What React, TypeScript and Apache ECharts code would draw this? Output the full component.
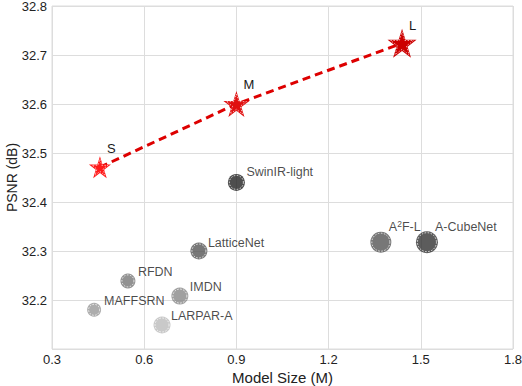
import React, { useEffect, useRef } from "react";
import * as echarts from "echarts";

const ourNames = ["S", "M", "L"];
const ourSizes = [0.456, 0.9, 1.439];
const ourPsnr = [32.471, 32.6, 32.724];
const ourColors = ["#ff1a1a", "#e01010", "#cc0000"];
const ourSymbolSizes = [22, 26, 29];

const otherNames = ["SwinIR-light", "LatticeNet", "RFDN", "IMDN", "MAFFSRN", "LARPAR-A", "A{sup|2}F-L", "A-CubeNet"];
const otherSizes = [0.9, 0.778, 0.547, 0.716, 0.437, 0.658, 1.37, 1.52];
const otherPsnr = [32.44, 32.3, 32.239, 32.208, 32.18, 32.149, 32.318, 32.318];
const otherColors = ["#222222", "#555555", "#777777", "#888888", "#999999", "#bbbbbb", "#555555", "#333333"];
const otherSymbolSizes = [17, 17, 15, 17, 14, 17, 21, 22];

const xTicks = [0.3, 0.6, 0.9, 1.2, 1.5, 1.8];

const STAR = "path://M50,0 L61.2,34.5 L97.6,34.5 L68.2,55.9 L79.4,90.5 L50,69.1 L20.6,90.5 L31.8,55.9 L2.4,34.5 L38.8,34.5 Z";

export default function App() {
  const ref = useRef<HTMLDivElement>(null);
  useEffect(() => {
    const chart = echarts.init(ref.current!, null, { renderer: "svg" });
    const font = "Liberation Sans";
    const labelOffsets: Record<string, number[]> = {
      "SwinIR-light": [10, -10],
      LatticeNet: [9, -8],
      RFDN: [10, -9],
      IMDN: [10, -9],
      MAFFSRN: [10, -9],
      "LARPAR-A": [9, -9],
      "A{sup|2}F-L": [8, -15],
      "A-CubeNet": [8, -15],
      S: [7, -19],
      M: [7, -20],
      L: [7, -18],
    };
    const lab = (n: string, size: number, fs: number) => ({
      show: true,
      position: [size / 2 + labelOffsets[n][0], size / 2 + labelOffsets[n][1]],
      align: "left",
      verticalAlign: "middle",
      formatter: n,
      fontFamily: font,
      fontSize: fs,
      color: "#1a1a1a",
      rich: { sup: { fontFamily: font, fontSize: 8.5, color: "#1a1a1a", verticalAlign: "top", padding: [0, 0, 6, 0] } },
    });
    chart.setOption({
      animation: false,
      grid: {
        left: 52,
        right: 9,
        top: 6,
        bottom: 37,
        show: true,
        borderColor: "#dddddd",
        borderWidth: 1,
        containLabel: false,
        outerBoundsMode: "none",
      },
      xAxis: {
        type: "value",
        min: 0.3,
        max: 1.8,
        interval: 0.3,
        name: "Model Size (M)",
        nameLocation: "middle",
        nameGap: 21,
        nameMoveOverlap: false,
        nameTextStyle: { fontFamily: font, fontSize: 15, color: "#222" },
        axisLine: { show: false },
        axisTick: { show: false },
        splitLine: { lineStyle: { color: "#dddddd", width: 1 } },
        axisLabel: {
          fontFamily: font,
          fontSize: 13,
          color: "#222",
          margin: 4,
          formatter: (v: number) => {
            const t = xTicks.find((x) => Math.abs(x - v) < 1e-6);
            return t !== undefined ? t.toFixed(1) : "";
          },
        },
      },
      yAxis: {
        type: "value",
        min: 32.1,
        max: 32.8,
        interval: 0.1,
        name: "PSNR (dB)",
        nameLocation: "middle",
        nameGap: 33,
        nameMoveOverlap: false,
        nameTextStyle: { fontFamily: font, fontSize: 14, color: "#222" },
        axisLine: { show: false },
        axisTick: { show: false },
        splitLine: { lineStyle: { color: "#dddddd", width: 1 } },
        axisLabel: {
          fontFamily: font,
          fontSize: 13,
          color: "#222",
          margin: 5,
          showMinLabel: false,
          formatter: (v: number) => v.toFixed(1),
        },
      },
      series: [
        {
          type: "scatter",
          z: 2,
          data: otherNames.map((n, i) => ({
            value: [otherSizes[i], otherPsnr[i]],
            name: n,
            symbolSize: otherSymbolSizes[i],
            itemStyle: { color: otherColors[i] },
            label: lab(n, otherSymbolSizes[i], 12.5),
          })),
        },
        {
          type: "scatter",
          z: 3,
          silent: true,
          data: otherNames.map((n, i) => ({
            value: [otherSizes[i], otherPsnr[i]],
            symbolSize: otherSymbolSizes[i] - 3,
            itemStyle: { color: "rgba(0,0,0,0)", borderColor: "#ffffff", borderWidth: 1, borderType: [1.5, 1.5] },
          })),
        },
        {
          type: "line",
          z: 4,
          lineStyle: { color: "#dd0000", width: 3, type: [8, 5] },
          symbol: STAR,
          data: ourNames.map((n, i) => ({
            value: [ourSizes[i], ourPsnr[i]],
            name: n,
            symbolSize: ourSymbolSizes[i],
            itemStyle: { color: ourColors[i] },
            label: lab(n, ourSymbolSizes[i], 13),
          })),
        },
        {
          type: "scatter",
          z: 5,
          silent: true,
          symbol: STAR,
          data: ourNames.map((n, i) => ({
            value: [ourSizes[i], ourPsnr[i]],
            symbolSize: ourSymbolSizes[i] - 6,
            itemStyle: { color: "rgba(0,0,0,0)", borderColor: "#ffffff", borderWidth: 0.8, borderType: [1.5, 1.5] },
          })),
        },
      ],
    });
    return () => chart.dispose();
  }, []);
  return <div ref={ref} style={{ width: 522, height: 386, position: "absolute", left: 0, top: 0 }} />;
}
